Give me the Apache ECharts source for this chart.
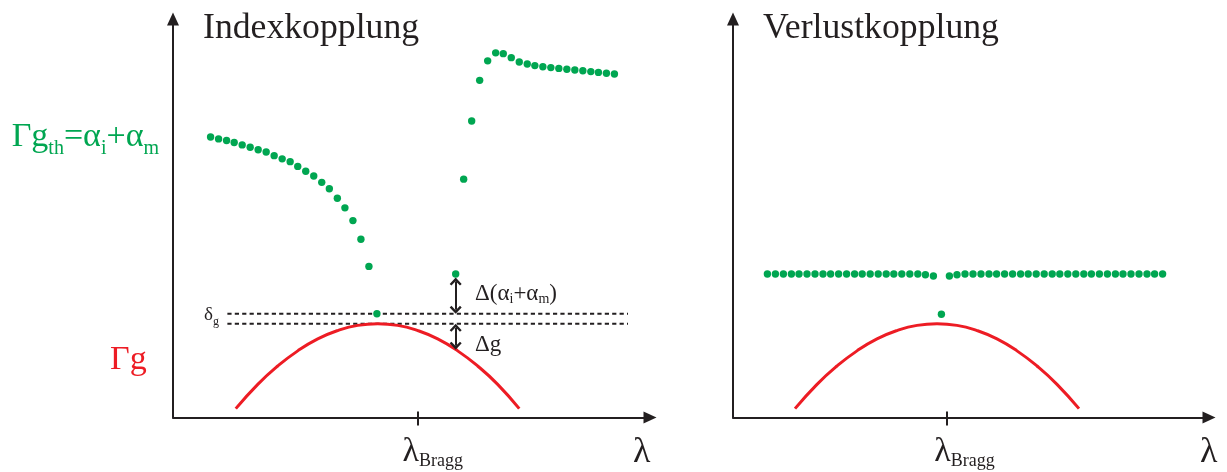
<!DOCTYPE html>
<html>
<head>
<meta charset="utf-8">
<script src="https://cdn.jsdelivr.net/npm/echarts@6/dist/echarts.min.js"></script>
<style>
  html, body { margin: 0; padding: 0; background: #ffffff; }
  #chart { width: 1227px; height: 472px; }
</style>
</head>
<body>
<div id="chart"></div>
<script>
// Wavelength axis: offset from the Bragg wavelength (arbitrary units); gain axis: arbitrary units.

// Index coupling: threshold gain of the longitudinal modes (short- and long-wavelength branch)
const indexModeLambda = [
  -5.18, -4.98, -4.78, -4.59, -4.39, -4.19, -3.99, -3.79, -3.59, -3.39, -3.19,
  -3.00, -2.80, -2.60, -2.40, -2.21, -2.01, -1.82, -1.62, -1.42, -1.22, -1.02,
  0.95, 1.15, 1.35, 1.55, 1.75, 1.95, 2.14, 2.34, 2.54, 2.74, 2.93,
  3.13, 3.33, 3.53, 3.73, 3.93, 4.13, 4.33, 4.52, 4.72, 4.92
];
const indexModeGain = [
  7.04, 6.99, 6.95, 6.90, 6.84, 6.78, 6.72, 6.66, 6.57, 6.49, 6.42,
  6.30, 6.18, 6.06, 5.90, 5.74, 5.50, 5.26, 4.94, 4.47, 3.79, 2.60,
  3.60, 5.98, 7.44, 8.46, 8.95, 9.15, 9.13, 9.03, 8.92, 8.87, 8.83,
  8.80, 8.78, 8.76, 8.74, 8.72, 8.70, 8.68, 8.66, 8.64, 8.62
];

// Loss coupling: threshold gain of the longitudinal modes
const lossModeLambda = [
  -4.48, -4.28, -4.08, -3.88, -3.69, -3.49, -3.29, -3.09, -2.90, -2.70, -2.50,
  -2.30, -2.11, -1.91, -1.71, -1.51, -1.32, -1.12, -0.92, -0.72, -0.53, -0.33,
  -0.13,
  0.07, 0.26, 0.46, 0.66, 0.86, 1.06, 1.25, 1.45, 1.65, 1.85, 2.04, 2.24,
  2.44, 2.64, 2.83, 3.03, 3.23, 3.43, 3.62, 3.82, 4.02, 4.22, 4.41, 4.61,
  4.81, 5.01, 5.20, 5.40
];
const lossModeGain = [
  3.60, 3.60, 3.60, 3.60, 3.60, 3.60, 3.60, 3.60, 3.60, 3.60, 3.60,
  3.60, 3.60, 3.60, 3.60, 3.60, 3.60, 3.60, 3.60, 3.60, 3.58, 3.55,
  2.59,
  3.55, 3.58, 3.60, 3.60, 3.60, 3.60, 3.60, 3.60, 3.60, 3.60, 3.60, 3.60,
  3.60, 3.60, 3.60, 3.60, 3.60, 3.60, 3.60, 3.60, 3.60, 3.60, 3.60, 3.60,
  3.60, 3.60, 3.60, 3.60
];

// Material gain spectrum (Γg), sampled along the curve
const gainLambdaIndex = [-4.55, -4.00, -3.50, -3.00, -2.50, -2.00, -1.50, -1.00, -0.50, 0.00, 0.50, 1.00, 1.50, 2.00, 2.54];
const gainLambdaLoss  = [-3.79, -3.24, -2.74, -2.24, -1.74, -1.24, -0.74, -0.24, 0.26, 0.76, 1.26, 1.76, 2.26, 2.76, 3.31];
const gainValue       = [0.22, 0.83, 1.29, 1.67, 1.97, 2.18, 2.31, 2.35, 2.31, 2.18, 1.97, 1.67, 1.29, 0.83, 0.22];

// Threshold of the lasing mode and gain maximum (δg between them)
const thresholdLevels = [2.60, 2.35];
const thresholdSpan = [-4.76, 5.26];
// Position of the Δ arrows and the gain there
const deltaLambda = 0.95;
const gainAtDelta = 1.70;
const sideModeGain = 3.60;

const SERIF = "'Liberation Serif', 'Times New Roman', serif";
const INK = '#231f20';
const GREEN = '#00a651';
const RED = '#ed1c24';

const zip = (xs, ys) => xs.map((x, i) => [x, ys[i]]);

// Open chevron head for the double arrows (points up, rotated by the library)
const chevron = 'path://M6,0L12,6.4L10.3,8L6,3.6L1.7,8L0,6.4Z';
const headPad = 0.1;

function baseXAxis(gridIndex, min, max, padLeft) {
  return {
    type: 'value', gridIndex, min, max,
    axisLine: { onZero: false, lineStyle: { color: INK, width: 2 }, symbol: ['none', 'triangle'], symbolSize: [12, 13] },
    axisTick: { show: true, customValues: [0], length: 8, lineStyle: { color: INK, width: 2 } },
    splitLine: { show: false },
    axisLabel: {
      show: true, customValues: [0], margin: 14.6, align: 'center', padding: [0, 0, 0, padLeft],
      formatter: (v) => (Math.abs(v) < 1e-9 ? '{l|λ}{s|Bragg}' : ''),
      rich: {
        l: { fontFamily: SERIF, fontSize: 34, lineHeight: 40, verticalAlign: 'middle', color: INK },
        s: { fontFamily: SERIF, fontSize: 18, lineHeight: 22, height: 22, verticalAlign: 'bottom', color: INK }
      }
    }
  };
}
function innerTickAxis(gridIndex, min, max) {
  return {
    type: 'value', gridIndex, min, max, position: 'bottom', offset: 0,
    axisLine: { show: false },
    axisTick: { show: true, inside: true, customValues: [0], length: 6, lineStyle: { color: INK, width: 2 } },
    axisLabel: { show: false },
    splitLine: { show: false }
  };
}
function baseYAxis(gridIndex) {
  return {
    type: 'value', gridIndex, min: 0, max: 10,
    axisLine: { show: true, onZero: false, lineStyle: { color: INK, width: 2 }, symbol: ['none', 'triangle'], symbolSize: [12, 13] },
    axisTick: { show: false }, axisLabel: { show: false }, splitLine: { show: false }
  };
}

const chart = echarts.init(document.getElementById('chart'), null, { renderer: 'canvas' });

const option = {
  animation: false,
  backgroundColor: '#ffffff',
  grid: [
    { left: 173, top: 19, width: 477, height: 399 },
    { left: 733, top: 19, width: 476, height: 399 }
  ],
  xAxis: [
    baseXAxis(0, -6.12, 5.81, 30),
    innerTickAxis(0, -6.12, 5.81),
    baseXAxis(1, -5.34, 6.56, 36),
    innerTickAxis(1, -5.34, 6.56)
  ],
  yAxis: [baseYAxis(0), baseYAxis(1)],
  series: [
    // δg band: threshold of the lasing mode and gain maximum
    ...thresholdLevels.map((lvl) => ({
      type: 'line', xAxisIndex: 0, yAxisIndex: 0, silent: true, showSymbol: false, z: 1,
      lineStyle: { color: INK, width: 1.9, type: [4.2, 3.2] },
      data: thresholdSpan.map((x) => [x, lvl])
    })),
    {
      type: 'line', name: 'Γg', xAxisIndex: 0, yAxisIndex: 0, smooth: true, showSymbol: false, z: 2,
      lineStyle: { color: RED, width: 3 },
      data: zip(gainLambdaIndex, gainValue)
    },
    {
      type: 'scatter', name: 'Γgth', xAxisIndex: 0, yAxisIndex: 0, symbolSize: 7.4, z: 5,
      itemStyle: { color: GREEN, opacity: 1 },
      data: zip(indexModeLambda, indexModeGain)
    },
    // Δ(αi+αm) and Δg double arrows
    {
      type: 'lines', coordinateSystem: 'cartesian2d', xAxisIndex: 0, yAxisIndex: 0, z: 4,
      symbol: [chevron, chevron], symbolSize: [[12, 8], [12, 8]],
      lineStyle: { color: INK, width: 2, opacity: 1, curveness: 0 },
      data: [
        { coords: [[deltaLambda, sideModeGain - 0.09 - headPad], [deltaLambda, thresholdLevels[0] + headPad]] },
        { coords: [[deltaLambda, thresholdLevels[1] - headPad], [deltaLambda, gainAtDelta + headPad]] }
      ]
    },
    {
      type: 'line', name: 'Γg', xAxisIndex: 2, yAxisIndex: 1, smooth: true, showSymbol: false, z: 2,
      lineStyle: { color: RED, width: 3 },
      data: zip(gainLambdaLoss, gainValue)
    },
    {
      type: 'scatter', name: 'Γgth', xAxisIndex: 2, yAxisIndex: 1, symbolSize: 7.4, z: 5,
      itemStyle: { color: GREEN, opacity: 1 },
      data: zip(lossModeLambda, lossModeGain)
    }
  ],
  graphic: [
    { type: 'text', style: { text: 'Indexkopplung', x: 203, y: 28.2, verticalAlign: 'middle', font: '35.7px ' + SERIF, fill: INK } },
    { type: 'text', style: { text: 'Verlustkopplung', x: 763, y: 28.2, verticalAlign: 'middle', font: '35.7px ' + SERIF, fill: INK } },
    {
      type: 'text',
      style: {
        text: '{a|Γg}{s|th}{a|=α}{s|i}{a|+α}{s|m}', x: 11.7, y: 117, verticalAlign: 'top',
        rich: {
          a: { fontFamily: SERIF, fontSize: 34, lineHeight: 40, verticalAlign: 'middle', fill: GREEN },
          s: { fontFamily: SERIF, fontSize: 20, lineHeight: 16, height: 16, verticalAlign: 'bottom', fill: GREEN }
        }
      }
    },
    { type: 'text', style: { text: 'Γg', x: 110, y: 360.3, verticalAlign: 'middle', font: '34px ' + SERIF, fill: RED } },
    {
      type: 'text',
      style: {
        text: '{a|Δ(α}{s|i}{a|+α}{s|m}{a|)}', x: 475, y: 279.5, verticalAlign: 'top',
        rich: {
          a: { fontFamily: SERIF, fontSize: 23, lineHeight: 28, verticalAlign: 'middle', fill: INK },
          s: { fontFamily: SERIF, fontSize: 14, lineHeight: 17, height: 17, verticalAlign: 'bottom', fill: INK }
        }
      }
    },
    { type: 'text', style: { text: 'Δg', x: 475, y: 345.2, verticalAlign: 'middle', font: '23px ' + SERIF, fill: INK } },
    {
      type: 'text',
      style: {
        text: '{a|δ}{s|g}', x: 204, y: 304.5, verticalAlign: 'top',
        rich: {
          a: { fontFamily: SERIF, fontSize: 19, lineHeight: 22, verticalAlign: 'middle', fill: INK },
          s: { fontFamily: SERIF, fontSize: 12, lineHeight: 10, height: 10, verticalAlign: 'bottom', fill: INK }
        }
      }
    },
    { type: 'text', style: { text: 'λ', x: 633, y: 452.3, verticalAlign: 'middle', font: '36px ' + SERIF, fill: INK } },
    { type: 'text', style: { text: 'λ', x: 1200, y: 452.3, verticalAlign: 'middle', font: '36px ' + SERIF, fill: INK } }
  ]
};

chart.setOption(option);
</script>
</body>
</html>
